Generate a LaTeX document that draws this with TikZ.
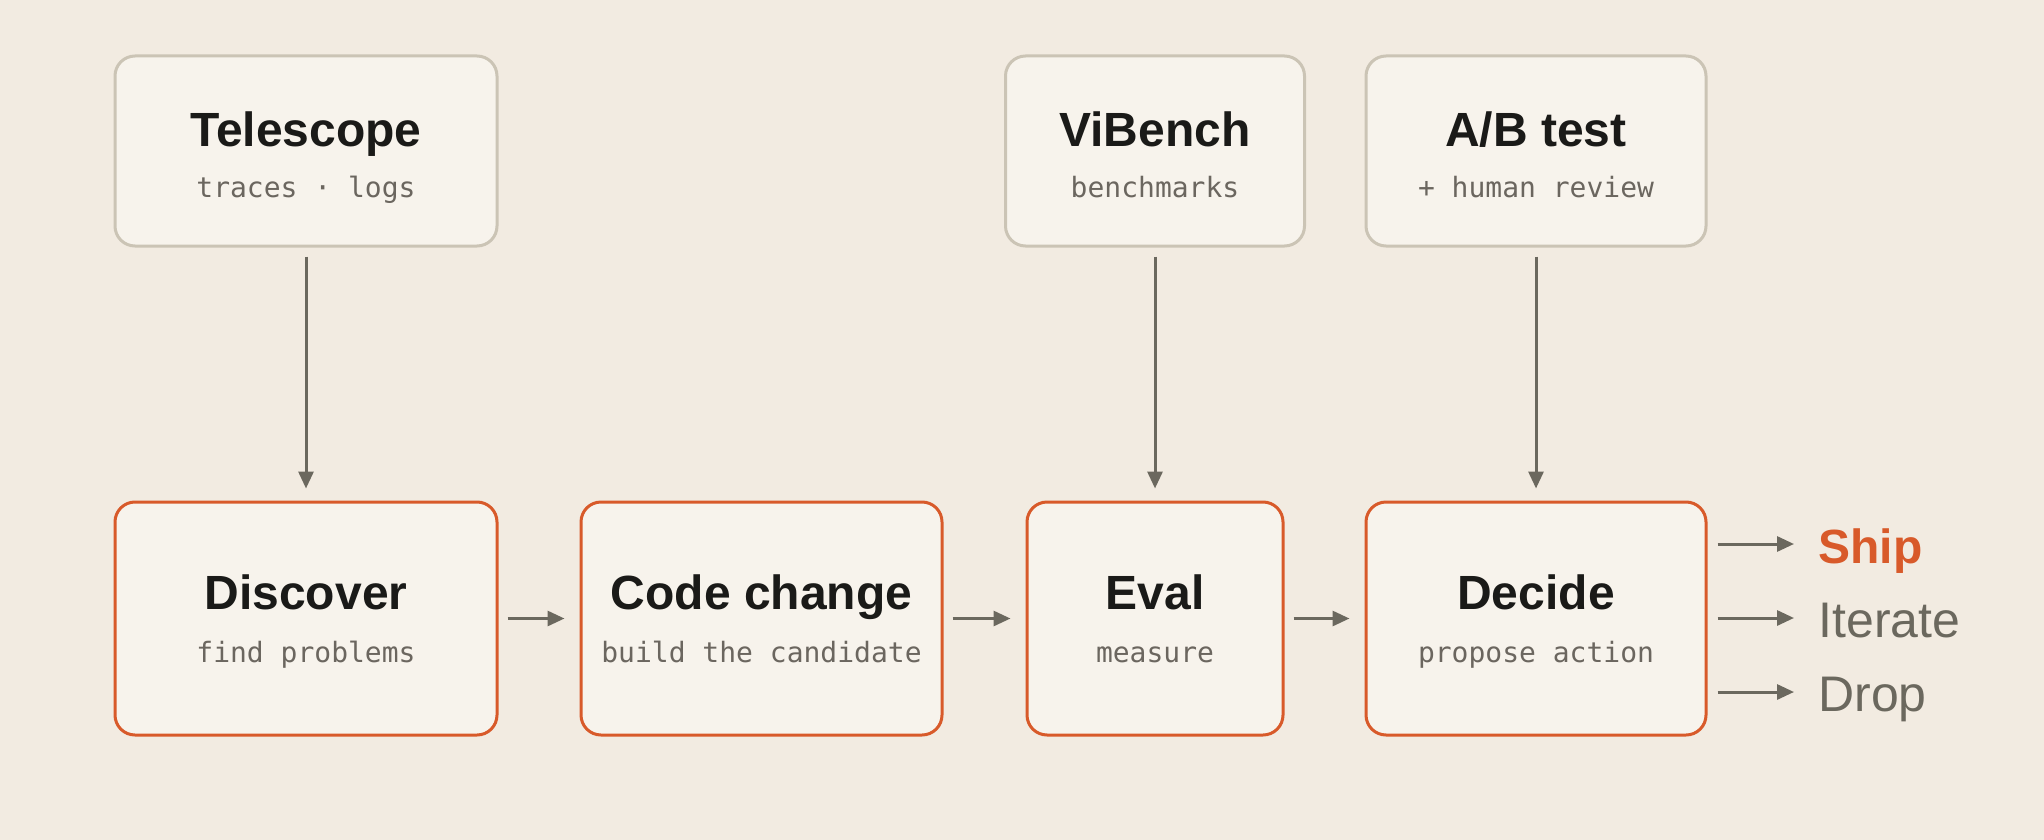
\documentclass[tikz,border=0pt]{standalone}
\usepackage{fontspec}
\setmainfont{Liberation Sans}
\setmonofont{DejaVu Sans Mono}
\usetikzlibrary{arrows.meta}

\definecolor{paper}{HTML}{F2EBE1}
\definecolor{boxfill}{HTML}{F7F3EC}
\definecolor{greyline}{HTML}{CBC4B5}
\definecolor{accent}{HTML}{D85A2A}
\definecolor{arrowgrey}{HTML}{6B685E}
\definecolor{ink}{HTML}{1A1A18}
\definecolor{muted}{HTML}{6B665F}

\begin{document}
\begin{tikzpicture}[x=0.5pt, y=-0.5pt,
    box/.style={rectangle, rounded corners=10pt, line width=1.5pt, fill=boxfill, inner sep=0pt},
    source/.style={box, draw=greyline, minimum height=95pt},
    stage/.style={box, draw=accent, minimum height=116.5pt},
    title/.style={anchor=base, font=\fontsize{24}{28}\selectfont\bfseries, text=ink},
    sub/.style={anchor=base, font=\fontsize{14}{16}\selectfont\ttfamily, text=muted},
    flow/.style={-{Triangle[length=8.5pt,width=7.5pt]}, line width=1.5pt, draw=arrowgrey},
    outcome/.style={anchor=west, inner sep=0pt, text height=19.5pt, text depth=0pt, font=\fontsize{25}{30}\selectfont, text=arrowgrey}]
    \useasboundingbox[fill=paper] (0,0) rectangle (2044,840);

    % Sources
    \node (tele) [source, minimum width=191pt] at (306,151) {};
    \node (vib) [source, minimum width=149.5pt] at (1155,151) {};
    \node (ab) [source, minimum width=170pt] at (1536,151) {};
    \node (tele-t) [title] at ([yshift=2pt]tele.center) {Telescope};
    \node (tele-s) [sub] at ([yshift=-23pt]tele.center) {traces · logs};
    \node (vib-t) [title] at ([yshift=2pt]vib.center) {ViBench};
    \node (vib-s) [sub] at ([yshift=-23pt]vib.center) {benchmarks};
    \node (ab-t) [title] at ([yshift=2pt]ab.center) {A/B test};
    \node (ab-s) [sub] at ([yshift=-23pt]ab.center) {+ human review};

    % Stages
    \node (disc) [stage, minimum width=191pt] at (306,618.5) {};
    \node (code) [stage, minimum width=180.5pt] at (761.5,618.5) {};
    \node (eval) [stage, minimum width=128pt] at (1155,618.5) {};
    \node (dec) [stage, minimum width=170pt] at (1536,618.5) {};
    \node (disc-t) [title] at ([yshift=4.5pt]disc.center) {Discover};
    \node (disc-s) [sub] at ([yshift=-22pt]disc.center) {find problems};
    \node (code-t) [title] at ([yshift=4.5pt]code.center) {Code change};
    \node (code-s) [sub] at ([yshift=-22pt]code.center) {build the candidate};
    \node (eval-t) [title] at ([yshift=4.5pt]eval.center) {Eval};
    \node (eval-s) [sub] at ([yshift=-22pt]eval.center) {measure};
    \node (dec-t) [title] at ([yshift=4.5pt]dec.center) {Decide};
    \node (dec-s) [sub] at ([yshift=-22pt]dec.center) {propose action};

    % Outcomes
    \node (ship) [outcome, text=accent, font=\fontsize{24}{30}\selectfont\bfseries] at (1818,544) {Ship};
    \node (iter) [outcome] at (1818,618) {Iterate};
    \node (drop) [outcome] at (1818,692) {Drop};

    % Arrows
    \draw[flow, shorten <=4.5pt, shorten >=6pt] (tele) -- (disc);
    \draw[flow, shorten <=4.5pt, shorten >=6pt] (vib) -- (eval);
    \draw[flow, shorten <=4.5pt, shorten >=6pt] (ab) -- (dec);
    \draw[flow, shorten <=4.5pt, shorten >=7.5pt] (disc) -- (code);
    \draw[flow, shorten <=4.5pt, shorten >=7.5pt] (code) -- (eval);
    \draw[flow, shorten <=4.5pt, shorten >=7.5pt] (eval) -- (dec);
    \draw[flow, shorten <=5pt, shorten >=12pt] (dec.east |- ship.west) -- (ship.west);
    \draw[flow, shorten <=5pt, shorten >=12pt] (dec.east |- iter.west) -- (iter.west);
    \draw[flow, shorten <=5pt, shorten >=12pt] (dec.east |- drop.west) -- (drop.west);
\end{tikzpicture}
\end{document}
